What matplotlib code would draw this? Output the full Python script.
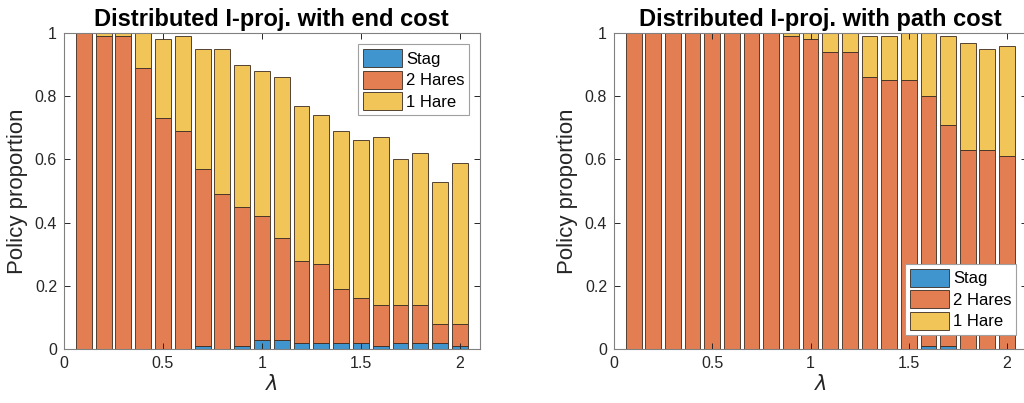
import numpy as np
import matplotlib.pyplot as plt
from matplotlib.patches import Patch

plt.rcParams['font.family'] = ['Liberation Sans', 'DejaVu Sans']

lam = np.round(np.arange(1, 21) * 0.1, 1)

# end cost: stag, 2 hares, 1 hare proportions
end_stag = [0, 0, 0, 0, 0, 0, 0.01, 0, 0.01, 0.03,
            0.03, 0.02, 0.02, 0.02, 0.02, 0.01, 0.02, 0.02, 0.02, 0.01]
end_two = [1.00, 0.99, 0.99, 0.89, 0.73, 0.69, 0.56, 0.49, 0.44, 0.39,
           0.32, 0.26, 0.25, 0.17, 0.14, 0.13, 0.12, 0.12, 0.06, 0.07]
end_one = [0, 0.01, 0.01, 0.11, 0.25, 0.30, 0.38, 0.46, 0.45, 0.46,
           0.51, 0.49, 0.47, 0.50, 0.50, 0.53, 0.46, 0.48, 0.45, 0.51]

# path cost
path_stag = [0, 0, 0, 0, 0, 0, 0, 0, 0, 0,
             0, 0, 0, 0, 0, 0.01, 0.01, 0, 0, 0]
path_two = [1.00, 1.00, 1.00, 1.00, 1.00, 1.00, 1.00, 1.00, 0.99, 0.98,
            0.94, 0.94, 0.86, 0.85, 0.85, 0.79, 0.70, 0.63, 0.63, 0.61]
path_one = [0, 0, 0, 0, 0, 0, 0, 0, 0.01, 0.02,
            0.06, 0.06, 0.13, 0.14, 0.15, 0.20, 0.28, 0.34, 0.32, 0.35]

labels = ['Stag', '2 Hares', '1 Hare']
# MATLAB default colours at 0.75 face alpha on white
colors = ['#4095CE', '#E37E53', '#F2C558']
edge = '#3a2a20'


def stacked(ax, series, title, legend_loc, legend_anchor):
    bottom = np.zeros(len(lam))
    for vals, c in zip(series, colors):
        ax.bar(lam, vals, width=0.08, bottom=bottom, color=c,
               edgecolor=edge, linewidth=0.6)
        bottom += np.array(vals)
    ax.set_xlim(0, 2.1)
    ax.set_ylim(0, 1)
    ax.set_xticks([0, 0.5, 1, 1.5, 2])
    ax.set_xticklabels(['0', '0.5', '1', '1.5', '2'])
    ax.set_yticks([0, 0.2, 0.4, 0.6, 0.8, 1])
    ax.set_yticklabels(['0', '0.2', '0.4', '0.6', '0.8', '1'])
    ax.tick_params(direction='in', top=True, right=True, labelsize=11.5,
                   colors='#262626', length=4, width=0.7, pad=5)
    for s in ax.spines.values():
        s.set_color('#808080')
        s.set_linewidth(0.8)
    ax.set_title(title, fontsize=17, fontweight='bold', pad=5)
    ax.set_xlabel(r'$\lambda$', fontsize=15, color='#262626', labelpad=2)
    ax.set_ylabel('Policy proportion', fontsize=16, color='#262626',
                  labelpad=5)
    handles = [Patch(facecolor=c, edgecolor=edge, linewidth=0.6) for c in colors]
    leg = ax.legend(handles, labels, loc=legend_loc,
                    bbox_to_anchor=legend_anchor, fontsize=12,
                    handlelength=2.3, handleheight=1.3, handletextpad=0.25,
                    labelspacing=0.2, borderpad=0.3, borderaxespad=0.0,
                    fancybox=False, framealpha=1)
    leg.get_frame().set_edgecolor('#a0a0a0')
    leg.get_frame().set_linewidth(0.8)


fig = plt.figure(figsize=(10.24, 4.03), dpi=100)
ax1 = fig.add_axes([0.0625, 0.134, 0.406, 0.784])
ax2 = fig.add_axes([0.5996, 0.134, 0.403, 0.784])

stacked(ax1, [end_stag, end_two, end_one],
        'Distributed I-proj. with end cost', 'upper right', (0.975, 0.965))
stacked(ax2, [path_stag, path_two, path_one],
        'Distributed I-proj. with path cost', 'lower right', (0.975, 0.045))

fig.savefig('out.png', dpi=100)
